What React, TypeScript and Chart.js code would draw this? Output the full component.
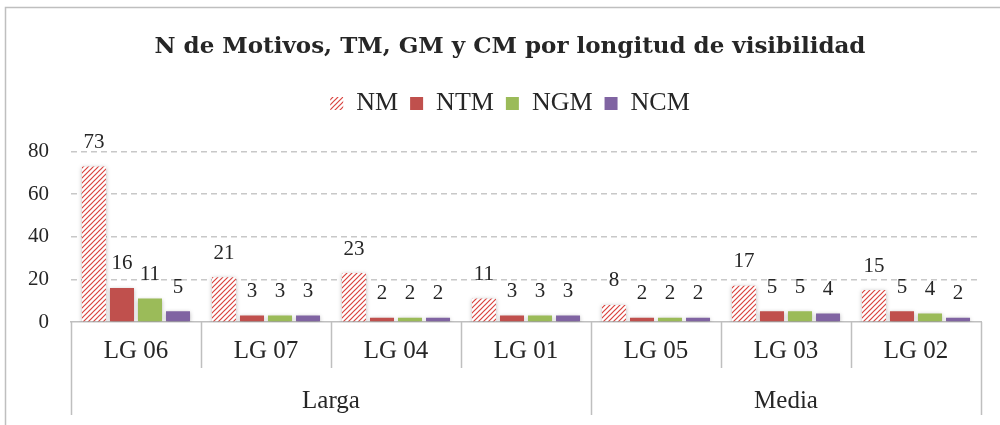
import { useEffect, useRef } from "react";
import { Chart, registerables } from "chart.js";
Chart.register(...registerables);

const categories = ["LG 06", "LG 07", "LG 04", "LG 01", "LG 05", "LG 03", "LG 02"];
const groupLabels = ["Larga", "Media"];
const groupSizes = [4, 3];
const seriesNames = ["NM", "NTM", "NGM", "NCM"];
const nmValues = [73, 21, 23, 11, 8, 17, 15];
const ntmValues = [16, 3, 2, 3, 2, 5, 5];
const ngmValues = [11, 3, 2, 3, 2, 5, 4];
const ncmValues = [5, 3, 2, 3, 2, 4, 2];
const yMin = 0;
const yMax = 80;
const yStep = 20;

const FONT = "'Liberation Serif', 'Times New Roman', serif";
const TITLE_FONT = "'DejaVu Serif', 'Liberation Serif', serif";
const TEXT = "#262626";
const LINE = "#bfbfbf";

function makeHatch(): CanvasPattern | string {
  const s = 5;
  const c = document.createElement("canvas");
  c.width = s;
  c.height = s;
  const g = c.getContext("2d");
  if (!g) return "#d9443f";
  g.fillStyle = "#ffffff";
  g.fillRect(0, 0, s, s);
  g.strokeStyle = "#d9443f";
  g.lineWidth = 1.2;
  g.beginPath();
  g.moveTo(0, s);
  g.lineTo(s, 0);
  g.moveTo(-1, 1);
  g.lineTo(1, -1);
  g.moveTo(s - 1, s + 1);
  g.lineTo(s + 1, s - 1);
  g.stroke();
  return g.createPattern(c, "repeat") || "#d9443f";
}

const framePlugin = {
  id: "frame",
  beforeDraw(chart: any) {
    const { ctx, width, height } = chart;
    ctx.save();
    ctx.fillStyle = "#ffffff";
    ctx.fillRect(0, 0, width, height);
    ctx.strokeStyle = LINE;
    ctx.lineWidth = 1.5;
    ctx.beginPath();
    ctx.moveTo(5.5, height + 5);
    ctx.lineTo(5.5, 7.5);
    ctx.lineTo(width + 5, 7.5);
    ctx.stroke();
    ctx.restore();
  },
};

const shadowPlugin = {
  id: "barShadow",
  beforeDatasetsDraw(chart: any) {
    const ctx = chart.ctx;
    ctx.save();
    ctx.shadowColor = "rgba(0,0,0,0.28)";
    ctx.shadowBlur = 4;
    ctx.shadowOffsetX = 0;
    ctx.shadowOffsetY = 1;
  },
  afterDatasetsDraw(chart: any) {
    chart.ctx.restore();
  },
};

const valueLabelPlugin = {
  id: "valueLabels",
  afterDatasetsDraw(chart: any) {
    const ctx = chart.ctx;
    ctx.save();
    ctx.font = `21px ${FONT}`;
    ctx.fillStyle = TEXT;
    ctx.textAlign = "center";
    ctx.textBaseline = "middle";
    chart.data.datasets.forEach((ds: any, di: number) => {
      const meta = chart.getDatasetMeta(di);
      meta.data.forEach((el: any, i: number) => {
        ctx.fillText(String(ds.data[i]), el.x, el.y - 24);
      });
    });
    ctx.restore();
  },
};

const groupAxisPlugin = {
  id: "groupAxis",
  afterDraw(chart: any) {
    const ctx = chart.ctx;
    const x = chart.scales.x;
    const area = chart.chartArea;
    const n = categories.length;
    const half = (x.getPixelForValue(1) - x.getPixelForValue(0)) / 2;
    const boundary = (i: number) =>
      i < n ? x.getPixelForValue(i) - half : x.getPixelForValue(n - 1) + half;
    const outer = new Set<number>([0]);
    let acc = 0;
    groupSizes.forEach((g) => {
      acc += g;
      outer.add(acc);
    });
    ctx.save();
    ctx.strokeStyle = LINE;
    ctx.lineWidth = 1.5;
    for (let i = 0; i <= n; i++) {
      const px = Math.round(boundary(i)) + 0.5;
      ctx.beginPath();
      ctx.moveTo(px, area.bottom);
      ctx.lineTo(px, outer.has(i) ? area.bottom + 93 : area.bottom + 46);
      ctx.stroke();
    }
    ctx.font = `25px ${FONT}`;
    ctx.fillStyle = TEXT;
    ctx.textAlign = "center";
    ctx.textBaseline = "middle";
    let start = 0;
    groupSizes.forEach((g, gi) => {
      const cx = (boundary(start) + boundary(start + g)) / 2;
      ctx.fillText(groupLabels[gi], cx, area.bottom + 79);
      start += g;
    });
    ctx.restore();
  },
};

export default function App() {
  const ref = useRef<HTMLCanvasElement | null>(null);
  useEffect(() => {
    if (!ref.current) return;
    const hatch = makeHatch();
    const colors = [hatch, "#c0504d", "#9bbb59", "#8064a2"];
    const values = [nmValues, ntmValues, ngmValues, ncmValues];
    const chart = new Chart(ref.current, {
      type: "bar",
      data: {
        labels: categories,
        datasets: seriesNames.map((name, i) => ({
          label: name,
          data: values[i],
          backgroundColor: colors[i] as any,
          borderWidth: 0,
          categoryPercentage: 0.862,
          barPercentage: 0.857,
        })),
      },
      options: {
        responsive: false,
        animation: false,
        layout: { padding: { top: 9, left: 20, right: 0, bottom: 0 } },
        plugins: {
          tooltip: { enabled: false },
          title: {
            display: true,
            text: "N de Motivos, TM, GM y CM por longitud de visibilidad",
            color: TEXT,
            font: { family: TITLE_FONT, size: 23, weight: "bold" },
            padding: { top: 24, bottom: 18 },
          },
          subtitle: {
            display: true,
            text: " ",
            position: "top",
            weight: 500,
            font: { size: 1, lineHeight: 1 },
            padding: { top: 0, bottom: 24 },
          } as any,
          legend: {
            position: "top",
            labels: {
              color: TEXT,
              font: { family: FONT, size: 26 },
              boxWidth: 13,
              boxHeight: 13,
              padding: 12,
            },
          },
        },
        scales: {
          x: {
            grid: { display: false, drawTicks: false },
            border: { display: true, color: LINE, width: 1.5 },
            ticks: { color: TEXT, font: { family: FONT, size: 25 }, padding: 14, maxRotation: 0 },
            afterFit: (s: any) => {
              s.height = 103;
            },
          },
          y: {
            min: yMin,
            max: yMax,
            ticks: { stepSize: yStep, color: TEXT, font: { family: FONT, size: 21 }, padding: 22 },
            grid: {
              drawTicks: false,
              color: (c: any) => (c.tick && c.tick.value === 0 ? "rgba(0,0,0,0)" : "#c8c8c8"),
              lineWidth: 1.5,
            },
            border: { display: false, dash: [6, 4] },
            afterFit: (s: any) => {
              s.width = 51;
            },
          },
          yRight: {
            position: "right",
            display: true,
            grid: { display: false, drawTicks: false },
            border: { display: false },
            ticks: { display: false },
            afterFit: (s: any) => {
              s.width = 19;
            },
          },
        },
      },
      plugins: [framePlugin, shadowPlugin, valueLabelPlugin, groupAxisPlugin],
    });
    return () => chart.destroy();
  }, []);
  return (
    <div style={{ position: "absolute", left: 0, top: 0, width: 1000, height: 425 }}>
      <canvas ref={ref} width={1000} height={425} style={{ display: "block" }} />
    </div>
  );
}
